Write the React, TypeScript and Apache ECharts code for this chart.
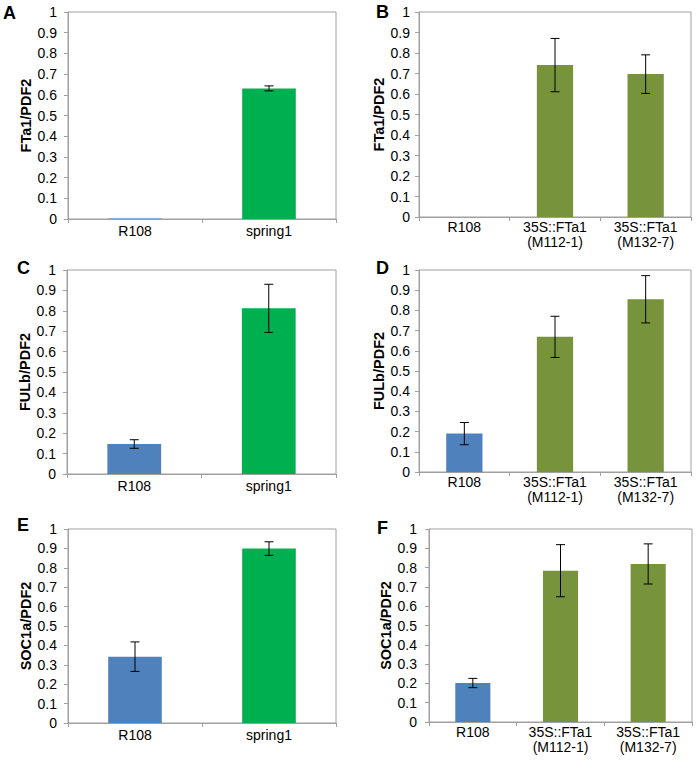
import React, { useEffect, useRef } from "react";
import * as echarts from "echarts";

const catsSpring = ["R108", "spring1"];
const catsTrans = ["R108", "35S::FTa1\n(M112-1)", "35S::FTa1\n(M132-7)"];

const valA = [0.003, 0.631];
const errA = [0, 0.012];
const valB = [0, 0.741, 0.697];
const errB = [0, 0.13, 0.094];
const valC = [0.147, 0.812];
const errC = [0.021, 0.118];
const valD = [0.19, 0.669, 0.855];
const errD = [0.055, 0.102, 0.117];
const valE = [0.342, 0.899];
const errE = [0.076, 0.035];
const valF = [0.202, 0.784, 0.819];
const errF = [0.024, 0.135, 0.104];

const yTicks = [0, 0.1, 0.2, 0.3, 0.4, 0.5, 0.6, 0.7, 0.8, 0.9, 1];

const BLUE = "#4F81BD";
const GREEN = "#00B050";
const OLIVE = "#77933C";
const AXIS = "#A0A0A0";
const FONT = "Liberation Sans, Arial, sans-serif";

type Panel = {
  letter: string;
  cats: string[];
  vals: number[];
  errs: number[];
  colors: string[];
  yName: string;
  grid: { left: number; top: number; width: number; height: number };
  labelMargin: number;
  yLabelMargin: number;
  nameGap: number;
  letterPos: [number, number];
};

const panels: Panel[] = [
  { letter: "A", cats: catsSpring, vals: valA, errs: errA, colors: [BLUE, GREEN], yName: "FTa1/PDF2",
    grid: { left: 68, top: 12, width: 268, height: 207 }, labelMargin: 5, yLabelMargin: 11, nameGap: 30, letterPos: [3, 13] },
  { letter: "B", cats: catsTrans, vals: valB, errs: errB, colors: [BLUE, OLIVE, OLIVE], yName: "FTa1/PDF2",
    grid: { left: 419, top: 12, width: 272, height: 205 }, labelMargin: 3, yLabelMargin: 9, nameGap: 31, letterPos: [376, 12] },
  { letter: "C", cats: catsSpring, vals: valC, errs: errC, colors: [BLUE, GREEN], yName: "FULb/PDF2",
    grid: { left: 67, top: 270, width: 269, height: 204 }, labelMargin: 5, yLabelMargin: 11, nameGap: 34, letterPos: [17, 268] },
  { letter: "D", cats: catsTrans, vals: valD, errs: errD, colors: [BLUE, OLIVE, OLIVE], yName: "FULb/PDF2",
    grid: { left: 419, top: 270, width: 272, height: 202 }, labelMargin: 3, yLabelMargin: 9, nameGap: 33, letterPos: [376, 268] },
  { letter: "E", cats: catsSpring, vals: valE, errs: errE, colors: [BLUE, GREEN], yName: "SOC1a/PDF2",
    grid: { left: 68, top: 529, width: 268, height: 194 }, labelMargin: 5, yLabelMargin: 11, nameGap: 33, letterPos: [17, 525] },
  { letter: "F", cats: catsTrans, vals: valF, errs: errF, colors: [BLUE, OLIVE, OLIVE], yName: "SOC1a/PDF2",
    grid: { left: 429, top: 529, width: 263, height: 193 }, labelMargin: 3, yLabelMargin: 12, nameGap: 33, letterPos: [377, 528] },
];

export default function App() {
  const ref = useRef<HTMLDivElement>(null);
  useEffect(() => {
    if (!ref.current) return;
    const chart = echarts.init(ref.current, undefined, { renderer: "svg" });
    const grid: any[] = [];
    const xAxis: any[] = [];
    const yAxis: any[] = [];
    const series: any[] = [];
    const graphic: any[] = [];
    panels.forEach((p, i) => {
      grid.push({ ...p.grid, show: true, borderColor: AXIS, borderWidth: 1, backgroundColor: "transparent", containLabel: false });
      xAxis.push({
        type: "category",
        gridIndex: i,
        data: p.cats,
        axisLine: { show: true, lineStyle: { color: AXIS, width: 1 } },
        axisTick: { show: true, length: 4, lineStyle: { color: AXIS } },
        axisLabel: { color: "#000", fontFamily: FONT, fontSize: 14, lineHeight: 14.5, margin: p.labelMargin, interval: 0 },
        splitLine: { show: false },
      });
      yAxis.push({
        type: "value",
        gridIndex: i,
        min: 0,
        max: 1,
        interval: 0.1,
        name: p.yName,
        nameLocation: "middle",
        nameGap: p.nameGap,
        nameRotate: 90,
        nameTextStyle: { color: "#000", fontFamily: FONT, fontSize: 14.5, fontWeight: "bold" },
        axisLine: { show: true, lineStyle: { color: AXIS, width: 1 } },
        axisTick: { show: true, length: 4, lineStyle: { color: AXIS } },
        axisLabel: {
          color: "#000",
          fontFamily: FONT,
          fontSize: 14,
          margin: p.yLabelMargin,
          formatter: (v: number) => {
            const t = yTicks.find((k) => Math.abs(k - v) < 1e-6);
            return t === undefined ? "" : String(t);
          },
        },
        splitLine: { show: false },
      });
      series.push({
        type: "bar",
        xAxisIndex: i,
        yAxisIndex: i,
        barWidth: "40%",
        data: p.vals.map((v, j) => ({ value: v, itemStyle: { color: p.colors[j] } })),
      });
      series.push({
        type: "custom",
        xAxisIndex: i,
        yAxisIndex: i,
        data: p.vals.map((v, j) => [j, v, p.errs[j]]),
        encode: { x: 0, y: 1 },
        z: 5,
        renderItem: (params: any, api: any) => {
          const x = api.value(0);
          const v = api.value(1);
          const e = api.value(2);
          if (!e) return null;
          const top = api.coord([x, v + e]);
          const bot = api.coord([x, v - e]);
          const hw = 4.5;
          const st = { stroke: "#000", lineWidth: 1 };
          return {
            type: "group",
            children: [
              { type: "line", shape: { x1: top[0], y1: top[1], x2: bot[0], y2: bot[1] }, style: st },
              { type: "line", shape: { x1: top[0] - hw, y1: top[1], x2: top[0] + hw, y2: top[1] }, style: st },
              { type: "line", shape: { x1: bot[0] - hw, y1: bot[1], x2: bot[0] + hw, y2: bot[1] }, style: st },
            ],
          };
        },
      });
      graphic.push({
        type: "text",
        left: p.letterPos[0],
        top: p.letterPos[1] - 9,
        style: { text: p.letter, font: `bold 18px ${FONT}`, fill: "#000" },
      });
    });
    chart.setOption({
      animation: false,
      backgroundColor: "#fff",
      grid,
      xAxis,
      yAxis,
      series,
      graphic,
    });
    return () => chart.dispose();
  }, []);
  return <div ref={ref} style={{ position: "absolute", left: 0, top: 0, width: 698, height: 765 }} />;
}
